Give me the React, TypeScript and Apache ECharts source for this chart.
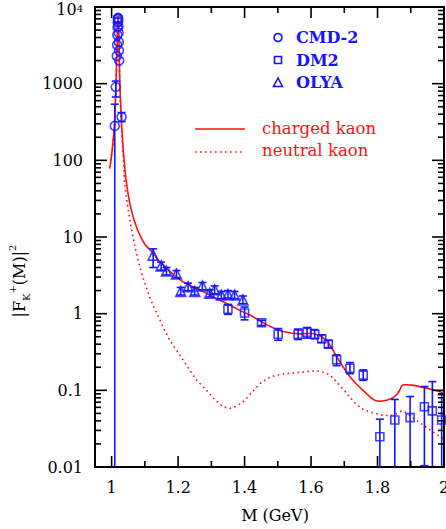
import React, { useEffect, useRef } from "react";
import * as echarts from "echarts";

// ---------- data ----------
const xTickLabels = [1, 1.2, 1.4, 1.6, 1.8, 2];
const xMajorTicks = [1, 1.2, 1.4, 1.6, 1.8, 2];
const xMinorTicks = [1.1, 1.3, 1.5, 1.7, 1.9];
const yTickLabels = [0.01, 0.1, 1, 10, 100, 1000, 10000];
const yMinorDigits = [2, 3, 4, 5, 6, 7, 8, 9];

const chargedM = [0.994, 0.998, 1.002, 1.006, 1.009, 1.0125, 1.015, 1.017, 1.018, 1.019, 1.0195, 1.02, 1.021, 1.022, 1.024, 1.026, 1.03, 1.035, 1.042, 1.048, 1.055, 1.065, 1.078, 1.09, 1.1, 1.12, 1.14, 1.165, 1.19, 1.214, 1.24, 1.265, 1.29, 1.315, 1.34, 1.365, 1.39, 1.416, 1.44, 1.466, 1.49, 1.516, 1.54, 1.566, 1.59, 1.606, 1.625, 1.647, 1.66, 1.677, 1.697, 1.717, 1.737, 1.757, 1.78, 1.795, 1.81, 1.83, 1.847, 1.86, 1.867, 1.872, 1.877, 1.89, 1.91, 1.93, 1.95, 1.978, 2.0];
const chargedF = [78, 100, 140, 210, 310, 850, 1900, 3800, 5200, 6900, 7300, 7000, 5600, 3800, 1400, 700, 290, 135, 62, 40, 27, 18, 12.3, 9.6, 8.0, 6.5, 5.0, 3.95, 3.1, 2.61, 2.3, 2.04, 1.8, 1.58, 1.4, 1.23, 1.08, 0.96, 0.84, 0.72, 0.64, 0.585, 0.56, 0.545, 0.55, 0.55, 0.52, 0.45, 0.37, 0.275, 0.2, 0.15, 0.12, 0.099, 0.08, 0.073, 0.072, 0.075, 0.08, 0.09, 0.101, 0.113, 0.118, 0.118, 0.116, 0.111, 0.106, 0.099, 0.092];

const neutralM = [0.998, 1.002, 1.006, 1.009, 1.0125, 1.015, 1.017, 1.018, 1.019, 1.0195, 1.02, 1.021, 1.022, 1.024, 1.026, 1.03, 1.035, 1.039, 1.049, 1.059, 1.069, 1.079, 1.095, 1.114, 1.13, 1.145, 1.16, 1.175, 1.19, 1.205, 1.22, 1.235, 1.255, 1.27, 1.285, 1.31, 1.335, 1.355, 1.375, 1.396, 1.42, 1.446, 1.47, 1.496, 1.53, 1.566, 1.6, 1.617, 1.64, 1.657, 1.68, 1.707, 1.73, 1.757, 1.787, 1.817, 1.84, 1.86, 1.872, 1.88, 1.9, 1.93, 1.96, 1.988, 2.0];
const neutralF = [100, 140, 210, 310, 850, 1900, 3800, 5200, 6800, 7200, 6900, 5500, 3700, 1300, 640, 250, 110, 48, 24, 13, 8, 5.0, 2.9, 1.65, 1.15, 0.83, 0.6, 0.45, 0.36, 0.29, 0.23, 0.184, 0.136, 0.118, 0.101, 0.076, 0.061, 0.058, 0.062, 0.071, 0.092, 0.122, 0.145, 0.158, 0.166, 0.172, 0.178, 0.179, 0.172, 0.158, 0.125, 0.092, 0.07, 0.056, 0.051, 0.047, 0.047, 0.05, 0.054, 0.053, 0.046, 0.037, 0.03, 0.025, 0.023];

// CMD-2 (circles); lo = 0 means the bar runs down to zero
const cmdM = [1.0095, 1.0125, 1.0155, 1.0165, 1.0172, 1.0178, 1.0183, 1.0188, 1.0192, 1.0196, 1.02, 1.0205, 1.021, 1.0216, 1.0222, 1.0228, 1.03];
const cmdF = [281, 905, 2300, 3200, 4300, 5400, 6300, 6900, 7200, 7100, 6500, 5600, 4600, 3500, 2700, 2000, 367];
const cmdLo = [0, 670, null, null, null, null, null, null, null, null, null, null, null, null, null, null, 320];
const cmdHi = [540, 1080, null, null, null, null, null, null, null, null, null, null, null, null, null, null, 420];

// DM2 (squares)
const dm2M = [1.35, 1.4, 1.451, 1.501, 1.561, 1.588, 1.611, 1.632, 1.652, 1.677, 1.717, 1.757, 1.807, 1.852, 1.898, 1.941, 1.965, 1.993];
const dm2F = [1.14, 1.02, 0.76, 0.54, 0.54, 0.57, 0.54, 0.47, 0.4, 0.25, 0.194, 0.158, 0.0248, 0.041, 0.044, 0.061, 0.054, 0.041];
const dm2Lo = [0.98, 0.83, 0.7, 0.45, 0.46, 0.48, 0.47, 0.42, 0.36, 0.21, 0.165, 0.135, 0, 0, 0, 0.0104, 0, 0];
const dm2Hi = [1.32, 1.22, 0.82, 0.64, 0.63, 0.66, 0.62, 0.53, 0.45, 0.29, 0.23, 0.185, 0.042, 0.076, 0.083, 0.112, 0.13, 0.088];

// OLYA (triangles)
const olyaM = [1.125, 1.149, 1.165, 1.195, 1.208, 1.23, 1.25, 1.273, 1.295, 1.31, 1.33, 1.35, 1.37, 1.395];
const olyaF = [5.8, 4.2, 3.6, 3.3, 1.95, 2.25, 1.95, 2.3, 1.85, 2.05, 1.75, 1.78, 1.75, 1.51];
const olyaLo = [4.0, 3.7, 3.2, 2.95, 1.75, 2.0, 1.75, 2.05, 1.65, 1.82, 1.57, 1.6, 1.57, 1.35];
const olyaHi = [7.0, 4.7, 4.0, 3.65, 2.2, 2.5, 2.2, 2.55, 2.05, 2.3, 1.95, 2.0, 1.95, 1.7];

// ---------- style constants ----------
const X_MIN = 0.95;
const X_MAX = 2.0;
const Y_MIN = 0.01;
const Y_MAX = 10000;
const BLUE = "#1414ff";
const RED = "#ff1010";
const FONT = "DejaVu Serif";

function pairs(xs: number[], ys: number[]) {
  return xs.map((x, i) => [x, ys[i]]);
}

function errData(xs: number[], ys: number[], lo: (number | null)[], hi: (number | null)[]) {
  const out: number[][] = [];
  xs.forEach((x, i) => {
    if (hi[i] != null) out.push([x, ys[i], lo[i] as number, hi[i] as number]);
  });
  return out;
}

function errorBarSeries(data: number[][]) {
  return {
    type: "custom",
    silent: true,
    clip: true,
    encode: { x: 0, y: 1 },
    data,
    z: 3,
    renderItem: (_p: any, api: any) => {
      const x = api.value(0);
      const lo = api.value(2);
      const hi = api.value(3);
      const toZero = !(lo > Y_MIN);
      const pTop = api.coord([x, hi]);
      const pBot = api.coord([x, toZero ? Y_MIN : lo]);
      const st = { stroke: BLUE, lineWidth: 1.6 };
      const children: any[] = [
        { type: "line", shape: { x1: pTop[0], y1: pTop[1], x2: pBot[0], y2: pBot[1] }, style: st },
        { type: "line", shape: { x1: pTop[0] - 4, y1: pTop[1], x2: pTop[0] + 4, y2: pTop[1] }, style: st },
      ];
      if (!toZero) {
        children.push({ type: "line", shape: { x1: pBot[0] - 4, y1: pBot[1], x2: pBot[0] + 4, y2: pBot[1] }, style: st });
      }
      return { type: "group", children };
    },
  };
}

function tickSeries() {
  return {
    type: "custom",
    silent: true,
    clip: false,
    data: [[X_MIN, Y_MIN]],
    encode: { x: 0, y: 1 },
    z: 10,
    renderItem: (_p: any, api: any) => {
      const bl = api.coord([X_MIN, Y_MIN]);
      const tr = api.coord([X_MAX, Y_MAX]);
      const left = bl[0];
      const bottom = bl[1];
      const right = tr[0];
      const top = tr[1];
      const st = { stroke: "#000", lineWidth: 1.6 };
      const ch: any[] = [];
      const xt = (v: number, len: number) => {
        const px = api.coord([v, Y_MIN])[0];
        ch.push({ type: "line", shape: { x1: px, y1: bottom, x2: px, y2: bottom - len }, style: st });
        ch.push({ type: "line", shape: { x1: px, y1: top, x2: px, y2: top + len }, style: st });
      };
      xMajorTicks.forEach((v) => xt(v, 11));
      xMinorTicks.forEach((v) => xt(v, 6));
      const yt = (v: number, len: number) => {
        const py = api.coord([X_MIN, v])[1];
        ch.push({ type: "line", shape: { x1: left, y1: py, x2: left + len, y2: py }, style: st });
        ch.push({ type: "line", shape: { x1: right, y1: py, x2: right - len, y2: py }, style: st });
      };
      yTickLabels.forEach((v) => yt(v, 12));
      yTickLabels.forEach((dec) => {
        if (dec >= Y_MAX) return;
        yMinorDigits.forEach((d) => yt(d * dec, 6));
      });
      return { type: "group", children: ch };
    },
  };
}

export default function App() {
  const ref = useRef<HTMLDivElement>(null);
  useEffect(() => {
    if (!ref.current) return;
    const chart = echarts.init(ref.current, undefined, { renderer: "svg" });
    const option: any = {
      animation: false,
      backgroundColor: "#fff",
      grid: {
        left: 95,
        right: 2,
        top: 7,
        bottom: 62,
        containLabel: false,
        outerBoundsMode: "none",
        show: true,
        borderColor: "#000",
        borderWidth: 2,
        backgroundColor: "transparent",
      },
      xAxis: {
        type: "value",
        min: X_MIN,
        max: X_MAX,
        axisLine: { show: false },
        axisTick: { show: false },
        splitLine: { show: false },
        axisLabel: {
          customValues: xTickLabels,
          formatter: (v: number) => String(Number(v.toFixed(2))),
          fontFamily: FONT,
          fontSize: 16,
          color: "#000",
          margin: 12,
          showMinLabel: true,
          showMaxLabel: true,
        },
      },
      yAxis: {
        type: "log",
        logBase: 10,
        min: Y_MIN,
        max: Y_MAX,
        axisLine: { show: false },
        axisTick: { show: false },
        splitLine: { show: false },
        axisLabel: {
          customValues: yTickLabels,
          formatter: (v: number) => {
            const n = Number(Number(v).toPrecision(3));
            if (n >= 10000) return "{b|10}{p|4}";
            return "{a|" + String(n) + "}";
          },
          margin: 12,
          rich: {
            a: { fontFamily: FONT, fontSize: 16, color: "#000", lineHeight: 18 },
            b: { fontFamily: FONT, fontSize: 16, color: "#000", lineHeight: 16, padding: [5, 0, 0, 0] },
            p: { fontFamily: FONT, fontSize: 10, color: "#000", lineHeight: 10, padding: [4, 0, 0, 0], verticalAlign: "top" },
          },
        },
      },
      series: [
        {
          type: "line",
          data: pairs(chargedM, chargedF),
          showSymbol: false,
          symbol: "none",
          lineStyle: { color: RED, width: 1.6 },
          z: 2,
          silent: true,
        },
        {
          type: "line",
          data: pairs(neutralM, neutralF),
          showSymbol: false,
          symbol: "none",
          lineStyle: { color: RED, width: 1.6, type: [1.6, 3.4] },
          z: 2,
          silent: true,
        },
        errorBarSeries(errData(cmdM, cmdF, cmdLo, cmdHi)),
        errorBarSeries(errData(dm2M, dm2F, dm2Lo, dm2Hi)),
        errorBarSeries(errData(olyaM, olyaF, olyaLo, olyaHi)),
        {
          type: "scatter",
          data: pairs(cmdM, cmdF),
          symbol: "circle",
          symbolSize: 9,
          itemStyle: { color: "transparent", borderColor: BLUE, borderWidth: 1.6 },
          z: 4,
        },
        {
          type: "scatter",
          data: pairs(dm2M, dm2F),
          symbol: "rect",
          symbolSize: 8,
          itemStyle: { color: "transparent", borderColor: BLUE, borderWidth: 1.6 },
          z: 4,
        },
        {
          type: "scatter",
          data: pairs(olyaM, olyaF),
          symbol: "triangle",
          symbolSize: 10,
          itemStyle: { color: "transparent", borderColor: BLUE, borderWidth: 1.6 },
          z: 4,
        },
        tickSeries(),
      ],
      graphic: [
        // legend: data sets
        { type: "circle", shape: { cx: 278, cy: 37.5, r: 4 }, style: { fill: "none", stroke: BLUE, lineWidth: 1.6 } },
        { type: "rect", shape: { x: 274.5, y: 56.5, width: 7, height: 7 }, style: { fill: "none", stroke: BLUE, lineWidth: 1.6 } },
        { type: "polygon", shape: { points: [[278, 78], [273.5, 86.5], [282.5, 86.5]] }, style: { fill: "none", stroke: BLUE, lineWidth: 1.6 } },
        { type: "text", x: 296, y: 37.5, style: { text: "CMD-2", fill: BLUE, font: "bold 16px " + FONT, verticalAlign: "middle" } },
        { type: "text", x: 296, y: 60, style: { text: "DM2", fill: BLUE, font: "bold 16px " + FONT, verticalAlign: "middle" } },
        { type: "text", x: 296, y: 82.5, style: { text: "OLYA", fill: BLUE, font: "bold 16px " + FONT, verticalAlign: "middle" } },
        // legend: curves
        { type: "line", shape: { x1: 195, y1: 129, x2: 245, y2: 129 }, style: { stroke: RED, lineWidth: 1.6 } },
        { type: "line", shape: { x1: 195, y1: 152, x2: 242, y2: 152 }, style: { stroke: RED, lineWidth: 1.6, lineDash: [1.6, 3.4] } },
        { type: "text", x: 262, y: 128, style: { text: "charged kaon", fill: RED, font: "16.5px " + FONT, verticalAlign: "middle" } },
        { type: "text", x: 262, y: 150, style: { text: "neutral kaon", fill: RED, font: "16.5px " + FONT, verticalAlign: "middle" } },
        // axis titles
        { type: "text", x: 275, y: 515, style: { text: "M (GeV)", fill: "#000", font: "16px " + FONT, align: "center", verticalAlign: "middle" } },
        {
          type: "text",
          x: 19,
          y: 281,
          rotation: Math.PI / 2,
          style: {
            text: "{a||F}{sub|K}{sup|+}{a|(M)|}{sup|2}",
            align: "center",
            verticalAlign: "middle",
            rich: {
              a: { fontFamily: FONT, fontSize: 16, lineHeight: 24, fill: "#000" },
              sub: { fontFamily: FONT, fontSize: 10, fill: "#000", verticalAlign: "bottom" },
              sup: { fontFamily: FONT, fontSize: 10, fill: "#000", verticalAlign: "top" },
            },
          },
        },
      ],
    };
    chart.setOption(option);
    return () => chart.dispose();
  }, []);
  return <div ref={ref} style={{ position: "absolute", left: 0, top: 0, width: 446, height: 529 }} />;
}
